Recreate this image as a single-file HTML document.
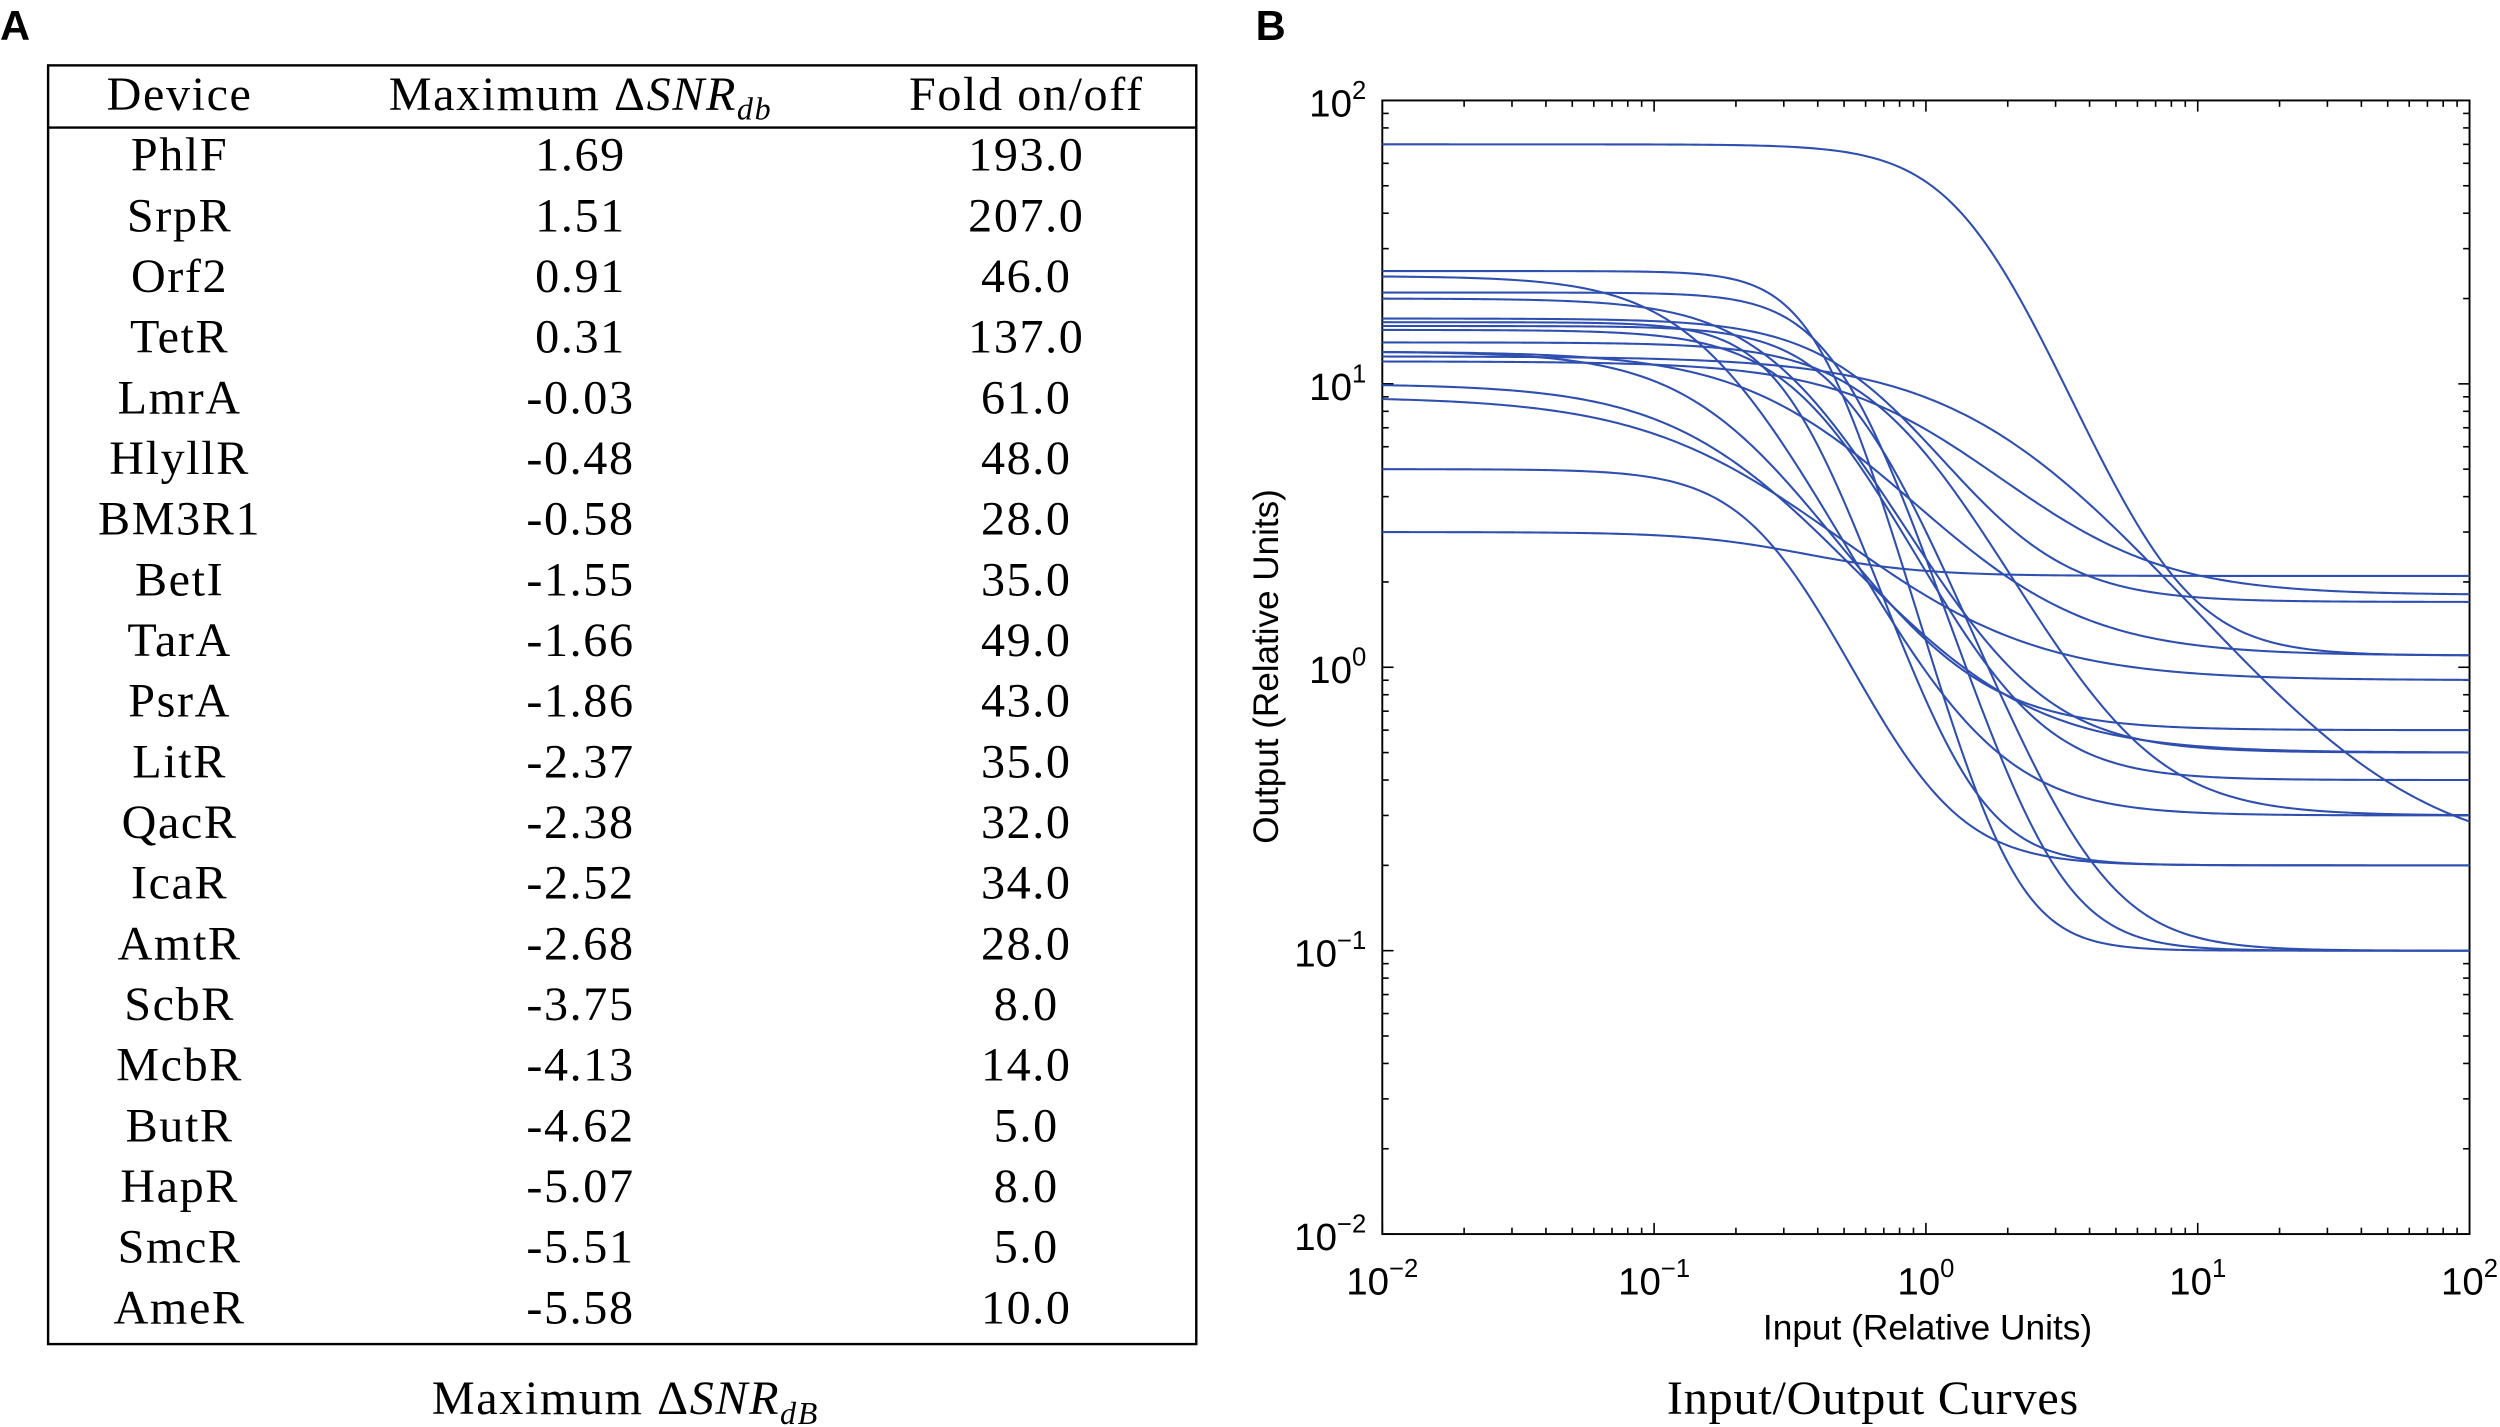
<!DOCTYPE html>
<html><head><meta charset="utf-8"><style>
html,body{margin:0;padding:0;background:#fff;}
svg{display:block;}
.serif{font-family:"Liberation Serif",serif;}
.sans{font-family:"Liberation Sans",sans-serif;}
</style></head><body>
<svg id="fig" width="2500" height="1427" viewBox="0 0 1559 895" preserveAspectRatio="none">
<text x="0" y="25" class="sans" font-size="26" font-weight="bold">A</text>
<text x="783" y="25" class="sans" font-size="26" font-weight="bold">B</text>
<g id="table">
<rect x="30" y="41" width="716" height="802" fill="none" stroke="#000" stroke-width="1.5"/>
<line x1="30" y1="80" x2="746" y2="80" stroke="#000" stroke-width="1.5"/>
<text x="112" y="69" text-anchor="middle" class="serif" font-size="30" letter-spacing="1">Device</text>
<text x="362" y="69" text-anchor="middle" class="serif" font-size="30" letter-spacing="1">Maximum Δ<tspan font-style="italic">SNR</tspan><tspan font-style="italic" font-size="20" dy="6">db</tspan></text>
<text x="640" y="69" text-anchor="middle" class="serif" font-size="30" letter-spacing="1">Fold on/off</text>
</g>
<text x="390" y="887" text-anchor="middle" class="serif" font-size="30" letter-spacing="1">Maximum Δ<tspan font-style="italic">SNR</tspan><tspan font-style="italic" font-size="20" dy="6">dB</tspan></text>
<g id="chart"></g>
<text x="1168" y="887" text-anchor="middle" class="serif" font-size="30" letter-spacing="0.5">Input/Output Curves</text>
</svg>
<script>
const devices=["PhlF","SrpR","Orf2","TetR","LmrA","HlyllR","BM3R1","BetI","TarA","PsrA","LitR","QacR","IcaR","AmtR","ScbR","McbR","ButR","HapR","SmcR","AmeR"];
const snrValues=["1.69","1.51","0.91","0.31","-0.03","-0.48","-0.58","-1.55","-1.66","-1.86","-2.37","-2.38","-2.52","-2.68","-3.75","-4.13","-4.62","-5.07","-5.51","-5.58"];
const foldValues=["193.0","207.0","46.0","137.0","61.0","48.0","28.0","35.0","49.0","43.0","35.0","32.0","34.0","28.0","8.0","14.0","5.0","8.0","5.0","10.0"];
const yMax=[70,25,24,21,20,17,16.5,16,15.5,14,13,12.5,12,10,9,5,3,13];
const yMin=[1.1,0.1,0.3,0.1,0.5,1.7,0.2,0.1,0.4,0.3,0.6,0.21,1.8,0.5,0.9,0.2,2.1,1.1];
const kHalf=[1.5,0.42,0.17,0.5,0.33,0.65,0.33,0.55,0.4,0.8,0.2,2,1.0,0.2,0.2,0.28,0.33,0.4];
const hillN=[2.5,3.5,2,3,2,2,3,2.5,2.2,2,1.8,1.3,1.5,1.5,1.3,2.5,2,1.5];
const xTickExp=[-2,-1,0,1,2];
const yTickExp=[-2,-1,0,1,2];
const NS="http://www.w3.org/2000/svg";
function mk(tag,attrs,parent){const e=document.createElementNS(NS,tag);for(const k in attrs)e.setAttribute(k,attrs[k]);parent.appendChild(e);return e;}
const tbl=document.getElementById('table');
devices.forEach((d,i)=>{
  const y=107+i*38.05;
  const cols=[[112,d,'device-cell'],[362,snrValues[i],'snr-cell'],[640,foldValues[i],'fold-cell']];
  cols.forEach(c=>{
    const t=mk('text',{x:c[0],y:y,'text-anchor':'middle','font-size':30,'letter-spacing':1,class:'serif'},tbl);
    
    
    t.textContent=c[1];
  });
});
const L=862,R=1540,T=63,B=774;
const xs=v=>L+(Math.log10(v)+2)/4*(R-L);
const ys=v=>B-(Math.log10(v)+2)/4*(B-T);
const ch=document.getElementById('chart');
const frame=mk('rect',{x:L,y:T,width:R-L,height:B-T,fill:'none',stroke:'#000','stroke-width':1.2},ch);


const tk=mk('g',{stroke:'#000','stroke-width':1},ch);


for(let e=-2;e<2;e++){for(let m=1;m<10;m++){const v=m*Math.pow(10,e);const len=m==1?7:4;
  const x=xs(v);mk('line',{x1:x,y1:B,x2:x,y2:B-len},tk);mk('line',{x1:x,y1:T,x2:x,y2:T+len},tk);
  const y=ys(v);mk('line',{x1:L,y1:y,x2:L+len,y2:y},tk);mk('line',{x1:R,y1:y,x2:R-len,y2:y},tk);}}
xTickExp.forEach(e=>{const t=mk('text',{x:xs(Math.pow(10,e)),y:812,'text-anchor':'middle','font-size':24,class:'sans'},ch);
  
  
  t.innerHTML='10<tspan font-size="16" dy="-11">'+(e<0?'\u2212'+(-e):e)+'</tspan>';});
yTickExp.forEach(e=>{const t=mk('text',{x:852,y:ys(Math.pow(10,e))+10,'text-anchor':'end','font-size':24,class:'sans'},ch);
  
  
  t.innerHTML='10<tspan font-size="16" dy="-11">'+(e<0?'\u2212'+(-e):e)+'</tspan>';});
const xt=mk('text',{x:1202,y:840,'text-anchor':'middle','font-size':22,class:'sans'},ch);


xt.textContent='Input (Relative Units)';
const yt=mk('text',{x:0,y:0,'text-anchor':'middle','font-size':22,class:'sans',transform:'translate(797,418) rotate(-90)'},ch);


yt.textContent='Output (Relative Units)';
yMax.forEach((mx,i)=>{
  let d='';
  for(let j=0;j<=300;j++){const lx=-2+4*j/300;const x=Math.pow(10,lx);
    const y=yMin[i]+(mx-yMin[i])/(1+Math.pow(x/kHalf[i],hillN[i]));
    d+=(j?'L':'M')+xs(x).toFixed(2)+' '+ys(y).toFixed(2);}
  const p=mk('path',{d:d,fill:'none',stroke:'#2f4fb0','stroke-width':1.3},ch);
  
  
});
</script>
</body></html>
